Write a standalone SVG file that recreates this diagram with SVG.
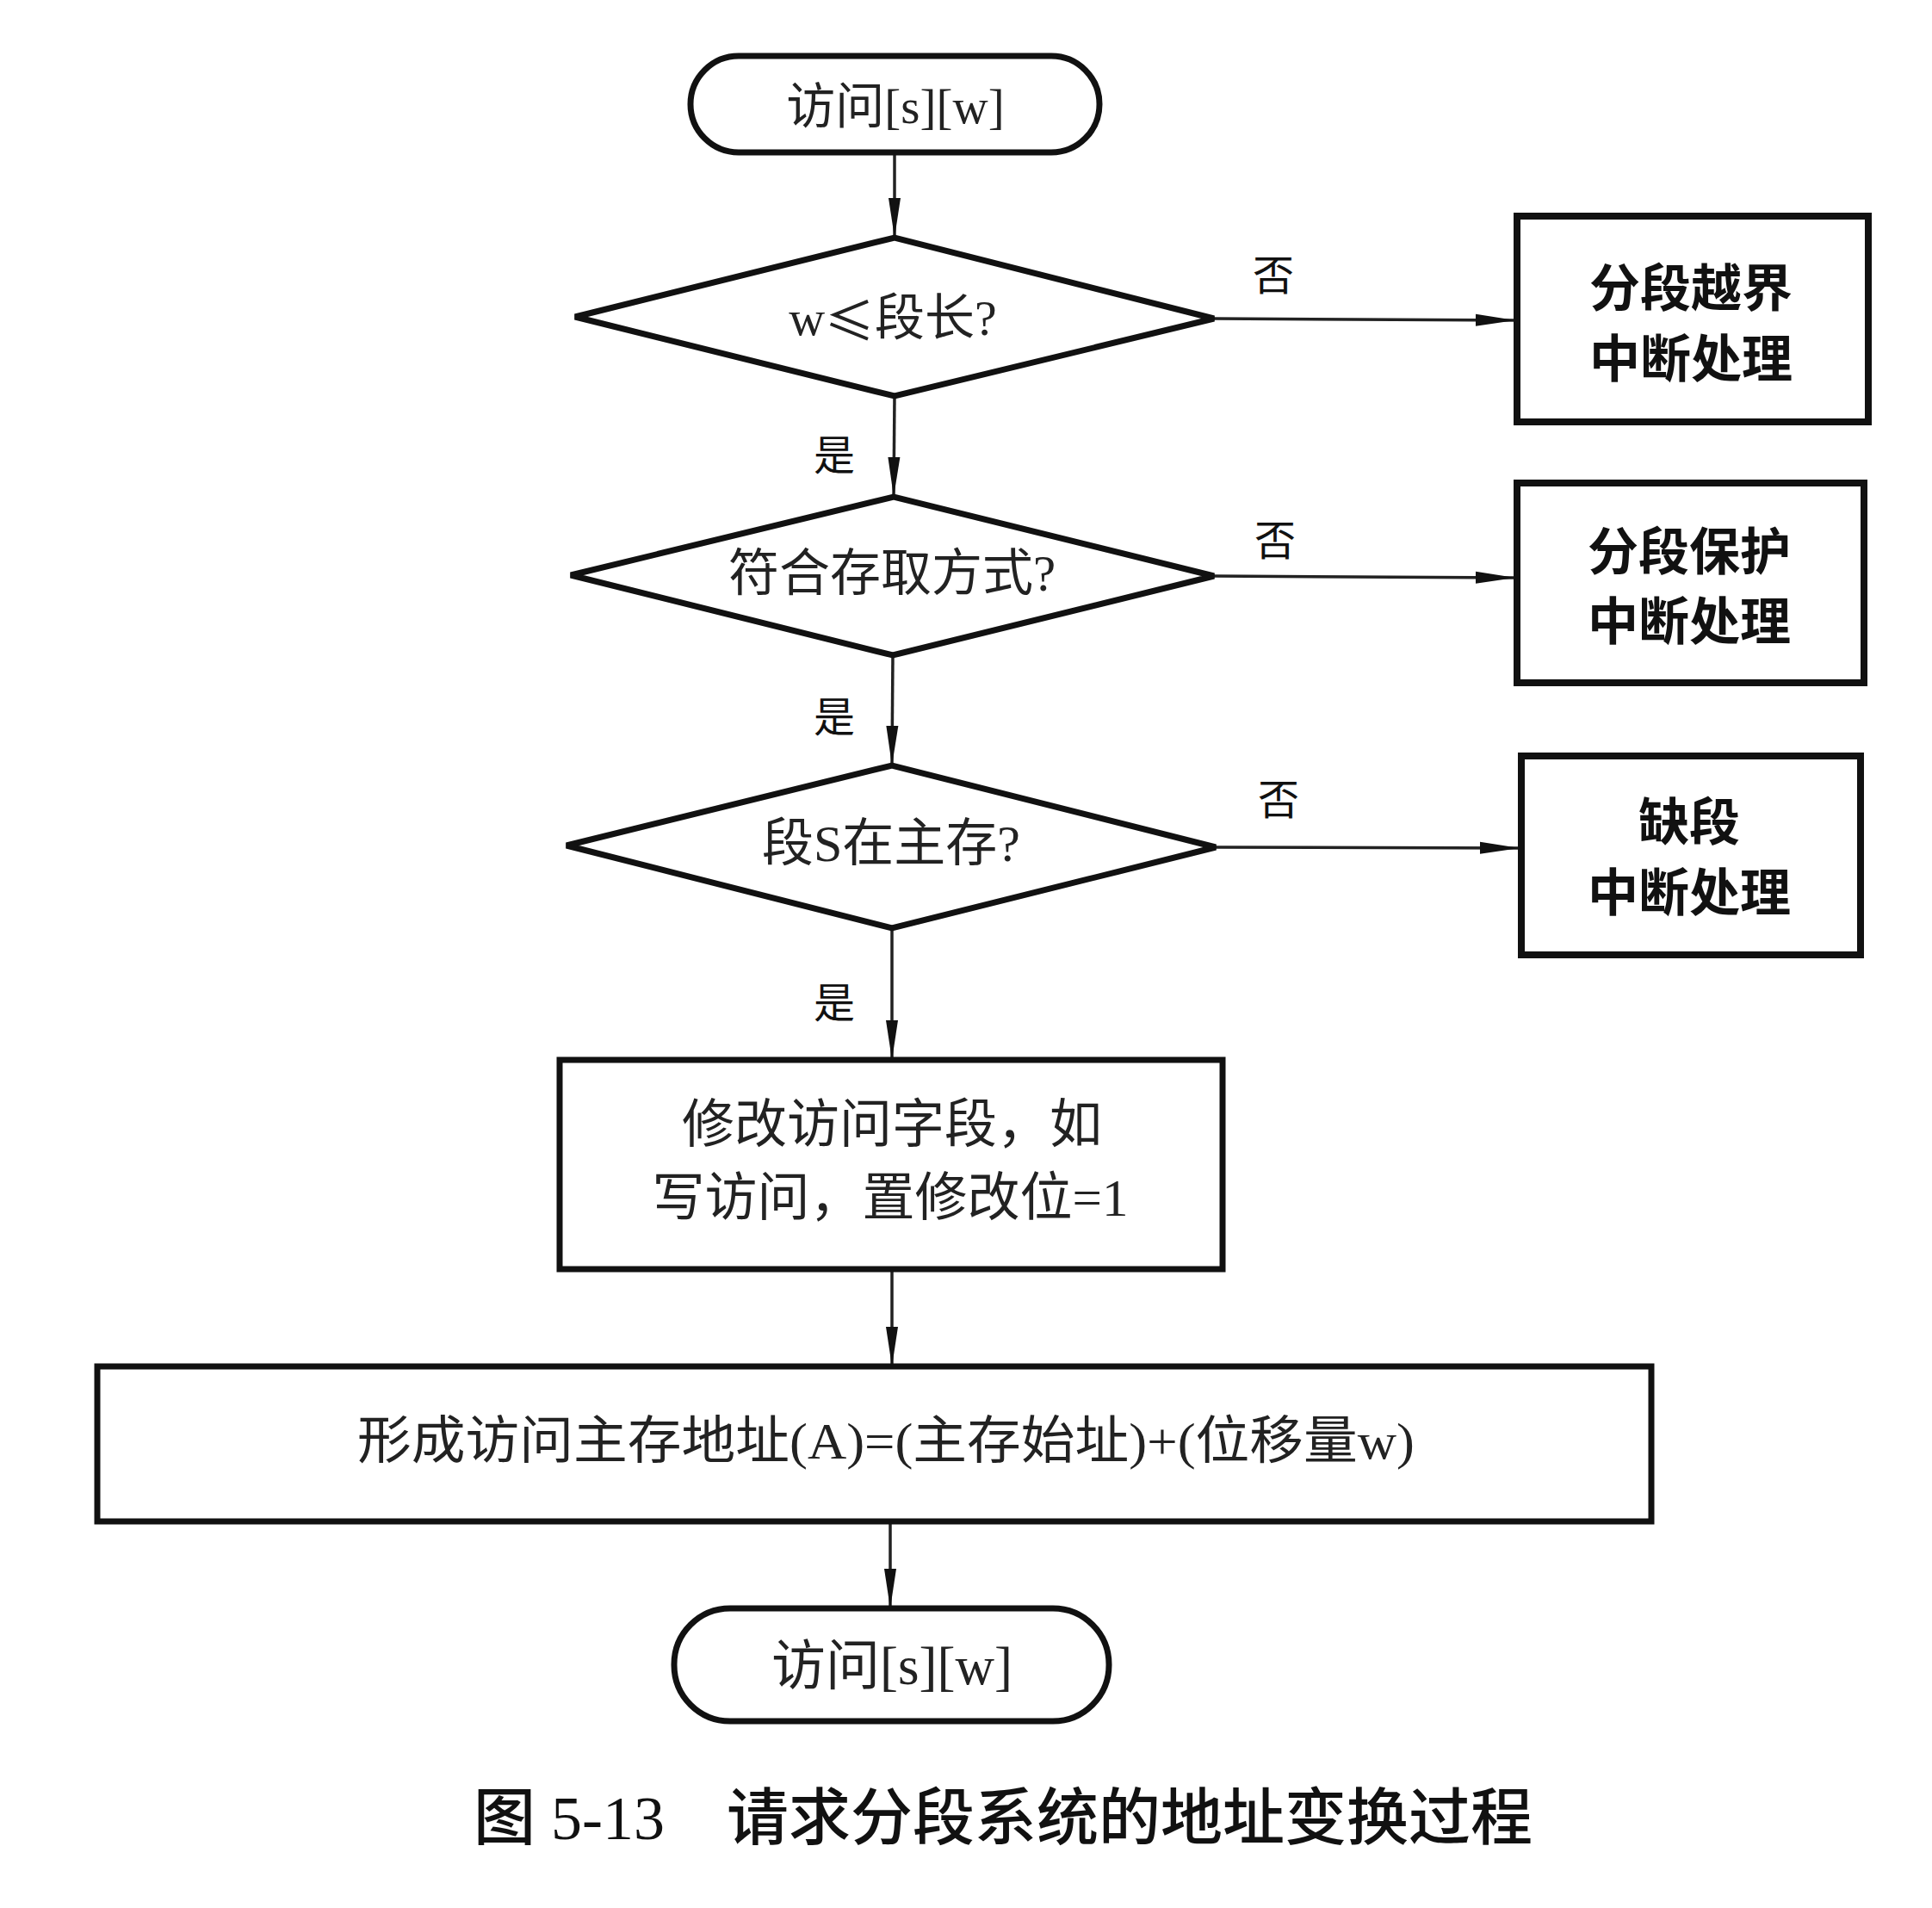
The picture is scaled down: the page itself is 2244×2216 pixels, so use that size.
<svg xmlns="http://www.w3.org/2000/svg" width="2244" height="2216" viewBox="0 0 2244 2216">
<defs>
<marker id="arr" markerUnits="userSpaceOnUse" markerWidth="48" markerHeight="20" refX="46" refY="10" orient="auto">
<path d="M0,3 L46,10 L0,17 Z" fill="#111"/>
</marker>
<style>
.shape{fill:#fff;stroke:#111;stroke-width:7}
.box{fill:#fff;stroke:#111;stroke-width:8}
.conn{fill:none;stroke:#222;stroke-width:3.5}
.t{font-family:"Liberation Serif","Noto Sans CJK SC",serif;fill:#222;text-anchor:middle;dominant-baseline:central}
.b{font-family:"Noto Sans CJK SC",sans-serif;font-weight:bold;fill:#111;text-anchor:middle;dominant-baseline:central;font-size:59px}
.lbl{font-family:"Noto Sans CJK SC",serif;fill:#111;text-anchor:middle;dominant-baseline:central;font-size:48px}
.cap{font-family:"Liberation Serif","Noto Sans CJK SC",serif;font-weight:500;fill:#111;text-anchor:middle;dominant-baseline:central;font-size:72px}
</style>
</defs>
<rect width="2244" height="2216" fill="#fff"/>

<g id="connectors">
<line class="conn" x1="1039" y1="177" x2="1039" y2="276" marker-end="url(#arr)"/>
<line class="conn" x1="1039" y1="460" x2="1038" y2="577" marker-end="url(#arr)"/>
<line class="conn" x1="1037" y1="761" x2="1036" y2="889" marker-end="url(#arr)"/>
<line class="conn" x1="1036" y1="1078" x2="1036" y2="1231" marker-end="url(#arr)"/>
<line class="conn" x1="1036" y1="1474" x2="1036" y2="1587" marker-end="url(#arr)"/>
<line class="conn" x1="1034" y1="1767" x2="1034" y2="1868" marker-end="url(#arr)"/>
<line class="conn" x1="1410" y1="370" x2="1760" y2="372" marker-end="url(#arr)"/>
<line class="conn" x1="1410" y1="669" x2="1760" y2="671" marker-end="url(#arr)"/>
<line class="conn" x1="1412" y1="984" x2="1765" y2="985" marker-end="url(#arr)"/>
<text class="lbl" x="1479" y="316">否</text>
<text class="lbl" x="1481" y="624">否</text>
<text class="lbl" x="1485" y="925">否</text>
<text class="lbl" x="969" y="525">是</text>
<text class="lbl" x="969" y="829">是</text>
<text class="lbl" x="969" y="1161">是</text>
</g>

<g id="start">
<rect class="shape" x="802" y="65" width="475" height="112" rx="56"/>
<text class="t" x="1040" y="123" font-size="57">访问[s][w]</text>
</g>

<g id="d1">
<polygon class="shape" points="668,368 1039,276 1410,370 1039,460"/>
<text class="t" x="1037" y="369" font-size="58">w<tspan font-family="Noto Sans CJK SC, sans-serif">≤</tspan>段长?</text>
</g>

<g id="d2">
<polygon class="shape" points="663,668 1038,577 1410,669 1037,761"/>
<text class="t" x="1036" y="666" font-size="59">符合存取方式?</text>
</g>

<g id="d3">
<polygon class="shape" points="658,982 1036,889 1412,984 1036,1078"/>
<text class="t" x="1035" y="980" font-size="60">段S在主存?</text>
</g>

<g id="b1">
<rect class="box" x="1762" y="251" width="408" height="239"/>
<text class="b" x="1964" y="330">分段越界</text>
<text class="b" x="1964" y="412">中断处理</text>
</g>

<g id="b2">
<rect class="box" x="1762" y="561" width="403" height="232"/>
<text class="b" x="1962" y="636">分段保护</text>
<text class="b" x="1962" y="717">中断处理</text>
</g>

<g id="b3">
<rect class="box" x="1767" y="878" width="394" height="231"/>
<text class="b" x="1962" y="950">缺段</text>
<text class="b" x="1962" y="1032">中断处理</text>
</g>

<g id="modify">
<rect class="shape" x="650" y="1231" width="770" height="243"/>
<text class="t" x="1036" y="1306" font-size="61">修改访问字段，如</text>
<text class="t" x="1034" y="1391" font-size="61">写访问，置修改位=1</text>
</g>

<g id="form">
<rect class="shape" x="113" y="1587" width="1805" height="180"/>
<text class="t" x="1029" y="1674" font-size="60" textLength="1228" lengthAdjust="spacingAndGlyphs">形成访问主存地址(A)=(主存始址)+(位移量w)</text>
</g>

<g id="end">
<rect class="shape" x="783" y="1868" width="505" height="131" rx="65"/>
<text class="t" x="1036" y="1935" font-size="63">访问[s][w]</text>
</g>

<text class="cap" x="1165" y="2112">图 5-13　请求分段系统的地址变换过程</text>
</svg>
